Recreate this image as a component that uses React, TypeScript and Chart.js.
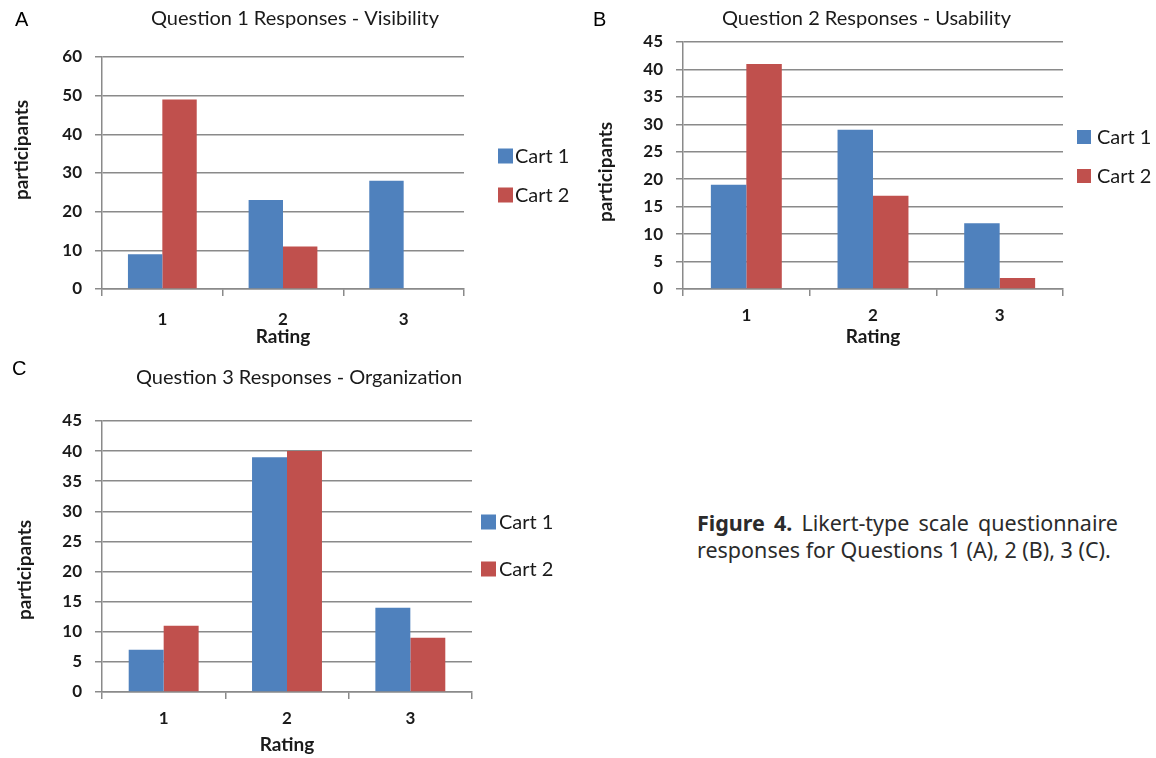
import React, { useEffect, useRef } from "react";
import { Chart, registerables } from "chart.js";

Chart.register(...registerables);

// ---------- data ----------
const ratings = ["1", "2", "3"];
const seriesNames = ["Cart 1", "Cart 2"];

const q1Title = "Question 1 Responses - Visibility";
const q1Cart1 = [9, 23, 28];
const q1Cart2 = [49, 11, 0];

const q2Title = "Question 2 Responses - Usability";
const q2Cart1 = [19, 29, 12];
const q2Cart2 = [41, 17, 2];

const q3Title = "Question 3 Responses - Organization";
const q3Cart1 = [7, 39, 14];
const q3Cart2 = [11, 40, 9];

const q1Axis = { max: 60, step: 10 };
const q2Axis = { max: 45, step: 5 };
const q3Axis = { max: 45, step: 5 };

const xTitle = "Rating";
const yTitle = "participants";
const captionBold = "Figure 4.";
const captionLine1 = "Likert-type scale questionnaire";
const captionLine2 = "responses for Questions 1 (A), 2 (B), 3 (C).";

// ---------- styles ----------
const BLUE = "#4F81BD";
const RED = "#C0504D";
const GRID = "#8a8a8a";
const TEXT = "#1a1a1a";
const FONT = "Lato, 'Open Sans', sans-serif";

// ---------- layout ----------
const panels = [
  {
    letter: "A", title: q1Title, cart1: q1Cart1, cart2: q1Cart2, axis: q1Axis,
    left: 0, top: 0, w: 580, h: 350,
    yAxisW: 102, padTop: 57, padRight: 116, xAxisH: 61, catPct: 0.57, xTickPad: 13,
    titleX: 295, titleY: 19, letterX: 15, letterY: 20,
    yTitleX: 22, yTitleY: 150,
    legendBoxX: 498, legendBox: 15, legendTextX: 515, legendY: [156, 195],
  },
  {
    letter: "B", title: q2Title, cart1: q2Cart1, cart2: q2Cart2, axis: q2Axis,
    left: 580, top: 0, w: 576, h: 350,
    yAxisW: 103, padTop: 42, padRight: 93, xAxisH: 61, catPct: 0.56, xTickPad: 9,
    titleX: 286.5, titleY: 19, letterX: 13, letterY: 20,
    yTitleX: 25.5, yTitleY: 172,
    legendBoxX: 497, legendBox: 14, legendTextX: 517, legendY: [137, 176],
  },
  {
    letter: "C", title: q3Title, cart1: q3Cart1, cart2: q3Cart2, axis: q3Axis,
    left: 0, top: 350, w: 580, h: 408,
    yAxisW: 102, padTop: 71, padRight: 108, xAxisH: 66, catPct: 0.567, xTickPad: 9,
    titleX: 299, titleY: 28, letterX: 12, letterY: 19,
    yTitleX: 25, yTitleY: 220,
    legendBoxX: 481, legendBox: 15, legendTextX: 499, legendY: [172, 219],
  },
];

type PanelSpec = (typeof panels)[number];

const panelDecor = {
  id: "panelDecor",
  afterDraw(chart: any, _args: any, opts: any) {
    const ctx = chart.ctx as CanvasRenderingContext2D;
    ctx.save();
    // panel letter
    ctx.fillStyle = "#000";
    ctx.font = "20px 'Liberation Sans', Arial, sans-serif";
    ctx.textAlign = "left";
    ctx.textBaseline = "middle";
    ctx.fillText(opts.letter, opts.letterX, opts.letterY);
    // chart title
    ctx.fillStyle = TEXT;
    ctx.font = `20px ${FONT}`;
    ctx.textAlign = "center";
    ctx.fillText(opts.title, opts.titleX, opts.titleY);
    // y axis title
    ctx.save();
    ctx.translate(opts.yTitleX, opts.yTitleY);
    ctx.rotate(-Math.PI / 2);
    ctx.font = `bold 19px ${FONT}`;
    ctx.textAlign = "center";
    ctx.textBaseline = "middle";
    ctx.fillText(opts.yTitle, 0, 0);
    ctx.restore();
    // legend
    ctx.font = `20px ${FONT}`;
    ctx.textAlign = "left";
    ctx.textBaseline = "middle";
    chart.data.datasets.forEach((ds: any, i: number) => {
      const cy = opts.legendY[i];
      ctx.fillStyle = ds.backgroundColor;
      ctx.fillRect(opts.legendBoxX, cy - opts.legendBox / 2, opts.legendBox, opts.legendBox);
      ctx.fillStyle = TEXT;
      ctx.fillText(ds.label, opts.legendTextX, cy + 0.5);
    });
    ctx.restore();
  },
};

function makeConfig(p: PanelSpec): any {
  const tickFont = { family: FONT, size: 17, weight: "bold" as const };
  const axisTitleFont = { family: FONT, size: 19, weight: "bold" as const };
  return {
    type: "bar",
    data: {
      labels: ratings,
      datasets: [
        { label: seriesNames[0], data: p.cart1, backgroundColor: BLUE, categoryPercentage: p.catPct, barPercentage: 1, borderWidth: 0 },
        { label: seriesNames[1], data: p.cart2, backgroundColor: RED, categoryPercentage: p.catPct, barPercentage: 1, borderWidth: 0 },
      ],
    },
    plugins: [panelDecor],
    options: {
      animation: false,
      responsive: false,
      maintainAspectRatio: false,
      devicePixelRatio: 1,
      layout: { padding: { top: p.padTop, right: p.padRight, left: 0, bottom: 0 } },
      plugins: {
        legend: { display: false },
        title: { display: false },
        tooltip: { enabled: false },
        panelDecor: {
          letter: p.letter, letterX: p.letterX, letterY: p.letterY,
          title: p.title, titleX: p.titleX, titleY: p.titleY,
          yTitle, yTitleX: p.yTitleX, yTitleY: p.yTitleY,
          legendBoxX: p.legendBoxX, legendBox: p.legendBox, legendTextX: p.legendTextX, legendY: p.legendY,
        },
      },
      scales: {
        x: {
          offset: true,
          grid: { offset: true, drawOnChartArea: false, drawTicks: true, tickLength: 7, color: GRID, lineWidth: 1.5 },
          border: { display: true, color: GRID, width: 1.5 },
          ticks: { font: tickFont, color: TEXT, padding: p.xTickPad, maxRotation: 0 },
          title: { display: true, text: xTitle, font: axisTitleFont, color: TEXT, padding: { top: 0, bottom: 2 } },
          afterFit: (s: any) => { s.height = p.xAxisH; },
        },
        y: {
          min: 0,
          max: p.axis.max,
          ticks: { stepSize: p.axis.step, font: tickFont, color: TEXT, padding: 13 },
          grid: { color: GRID, lineWidth: 1.5, tickLength: 7, drawTicks: true },
          border: { display: true, color: GRID, width: 1.5 },
          afterFit: (s: any) => { s.width = p.yAxisW; },
        },
      },
    },
  };
}

function Panel({ spec }: { spec: PanelSpec }) {
  const ref = useRef<HTMLCanvasElement>(null);
  useEffect(() => {
    const chart = new Chart(ref.current as HTMLCanvasElement, makeConfig(spec));
    return () => chart.destroy();
  }, [spec]);
  return (
    <canvas
      ref={ref}
      width={spec.w}
      height={spec.h}
      style={{ position: "absolute", left: spec.left, top: spec.top, width: spec.w, height: spec.h }}
    />
  );
}

export default function App() {
  return (
    <div style={{ position: "absolute", left: 0, top: 0, width: 1156, height: 758, background: "#fff", overflow: "hidden" }}>
      {panels.map((p) => (
        <Panel key={p.letter} spec={p} />
      ))}
      <div
        style={{
          position: "absolute",
          left: 697,
          top: 509,
          width: 421,
          fontFamily: "'Noto Sans', sans-serif",
          fontSize: 21.5,
          lineHeight: "27px",
          color: "#2b2b2b",
        }}
      >
        <div style={{ textAlign: "justify", textAlignLast: "justify", whiteSpace: "nowrap" as const }}>
          <b>{captionBold}</b> {captionLine1}
        </div>
        <div style={{ whiteSpace: "nowrap" }}>{captionLine2}</div>
      </div>
    </div>
  );
}
